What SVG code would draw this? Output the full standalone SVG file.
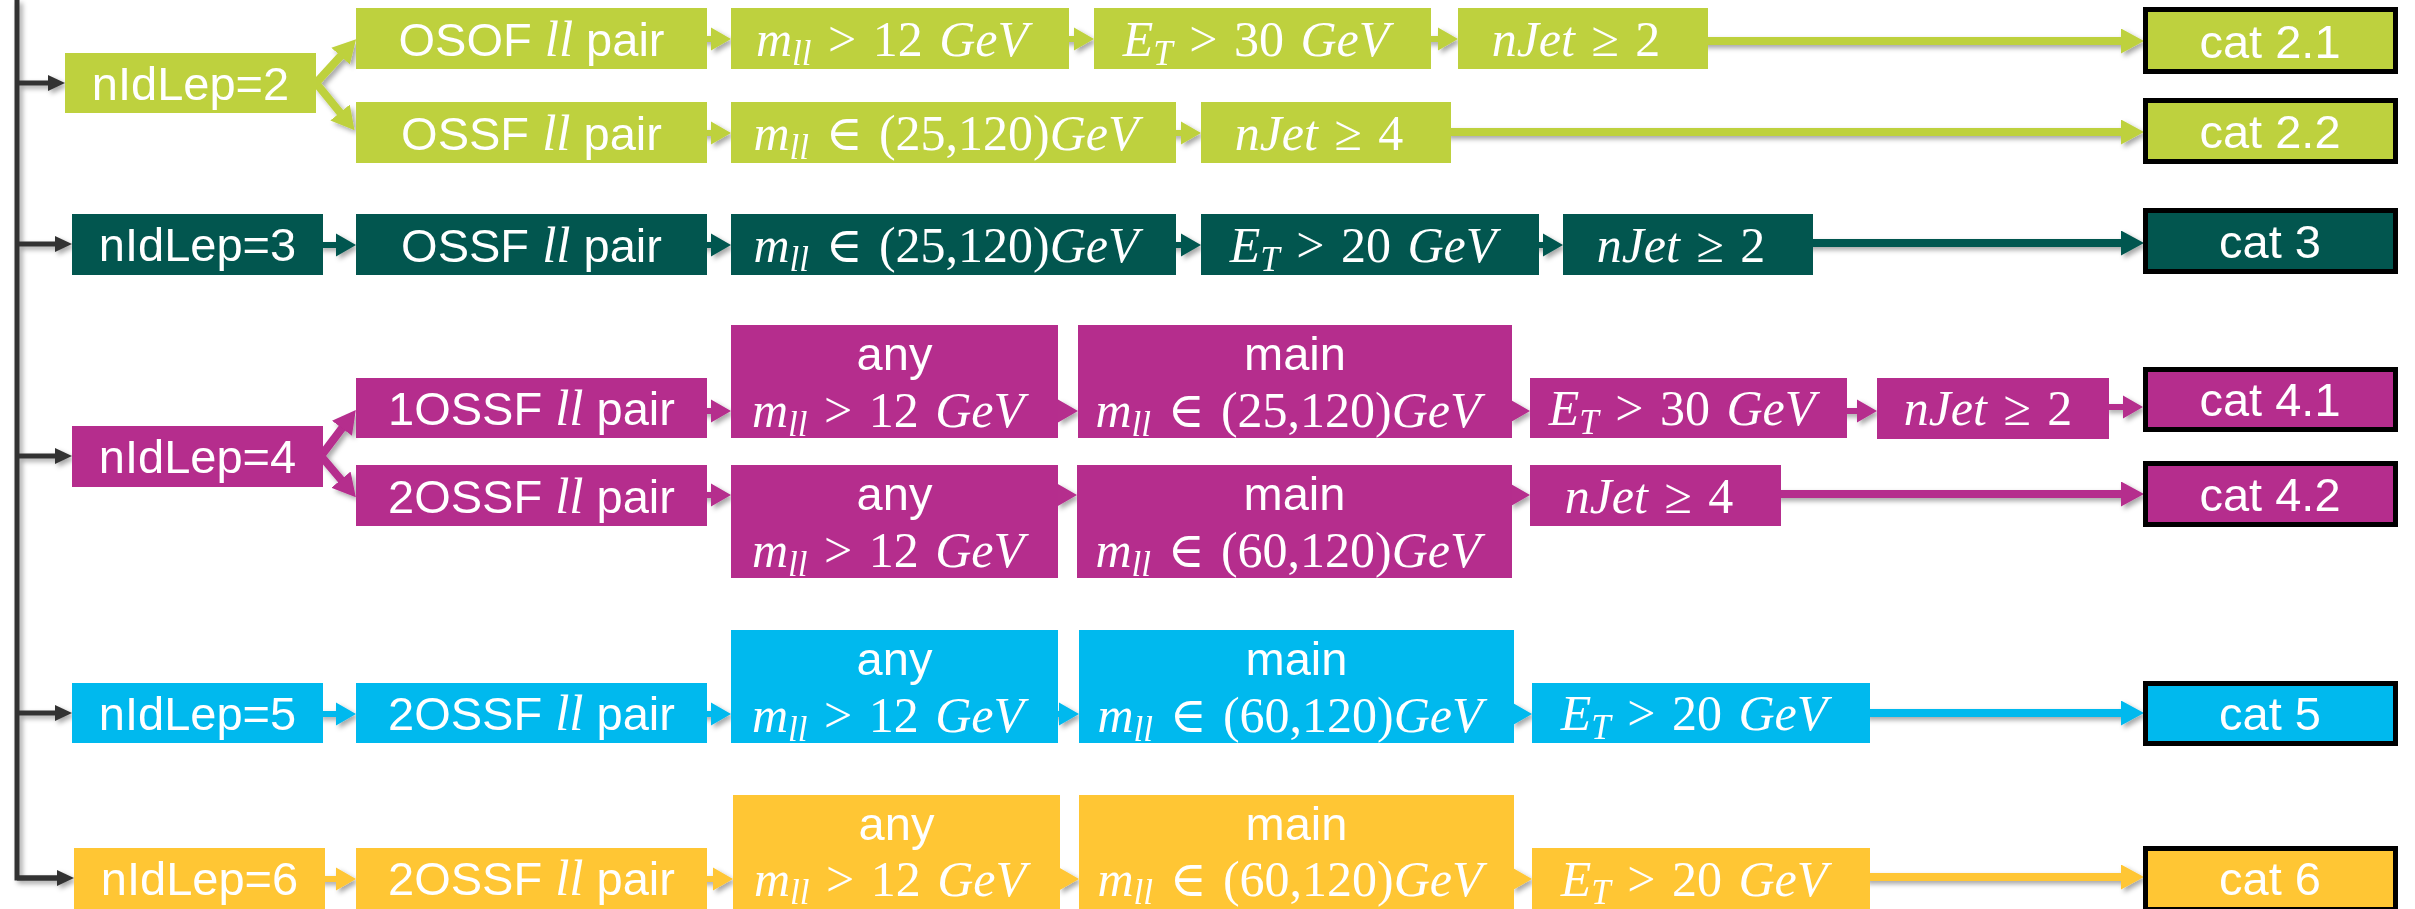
<svg xmlns="http://www.w3.org/2000/svg" xmlns:xlink="http://www.w3.org/1999/xlink" width="2415" height="909" viewBox="0 0 2415 909">
  <style>
    .lbl { font-family: "Liberation Sans", Arial, sans-serif; font-size: 47px; fill: #ffffff; text-anchor: middle; }
    .math { font-family: "Liberation Serif", "Times New Roman", "DejaVu Serif", serif; font-size: 50px; fill: #ffffff; text-anchor: middle; word-spacing: 4px; }
    .ll { font-family: "Liberation Serif", "Times New Roman", serif; font-style: italic; font-size: 51px; }
    .i { font-style: italic; }
    .sub { font-style: italic; font-size: 35px; }
    .lime { fill: #BED13E; }
    .teal { fill: #02564F; }
    .mag { fill: #B52D8D; }
    .cyan { fill: #00B9EE; }
    .yel { fill: #FFC634; }
    .cat { stroke: #000000; stroke-width: 5; }
    .ln { fill: none; stroke-width: 8; }
    .ln.lime { stroke: #BED13E; marker-end: url(#hLime); }
    .ln.teal { stroke: #02564F; marker-end: url(#hTeal); }
    .ln.mag { stroke: #B52D8D; marker-end: url(#hMag); }
    .ln.cyan { stroke: #00B9EE; marker-end: url(#hCyan); }
    .ln.yel { stroke: #FFC634; marker-end: url(#hYel); }
    .fork { fill: none; stroke-width: 8; }
    .fork.lime { stroke: #BED13E; marker-end: url(#hLime); }
    .fork.mag { stroke: #B52D8D; marker-end: url(#hMag); }
    .trunk { fill: none; stroke: #333333; stroke-width: 5; }
    .tarrow { fill: none; stroke: #333333; stroke-width: 5; marker-end: url(#hDark); }
  </style>
  <defs>
    <filter id="shadow" x="-20%" y="-20%" width="140%" height="160%">
      <feDropShadow dx="3" dy="3" stdDeviation="2.5" flood-color="#000000" flood-opacity="0.35"/>
    </filter>
    <!-- short block arrow, tip at the origin, pointing right -->
    <path id="blk" d="M-38,-3 H-20 V-11.5 L0,0 L-20,11.5 V3 H-38 Z"/>
    <marker id="hLime" markerUnits="userSpaceOnUse" markerWidth="23" markerHeight="25" refX="11" refY="12.5" orient="auto"><path d="M0,0 L23,12.5 L0,25 Z" fill="#BED13E"/></marker>
    <marker id="hTeal" markerUnits="userSpaceOnUse" markerWidth="23" markerHeight="25" refX="11" refY="12.5" orient="auto"><path d="M0,0 L23,12.5 L0,25 Z" fill="#02564F"/></marker>
    <marker id="hMag" markerUnits="userSpaceOnUse" markerWidth="23" markerHeight="25" refX="11" refY="12.5" orient="auto"><path d="M0,0 L23,12.5 L0,25 Z" fill="#B52D8D"/></marker>
    <marker id="hCyan" markerUnits="userSpaceOnUse" markerWidth="23" markerHeight="25" refX="11" refY="12.5" orient="auto"><path d="M0,0 L23,12.5 L0,25 Z" fill="#00B9EE"/></marker>
    <marker id="hYel" markerUnits="userSpaceOnUse" markerWidth="23" markerHeight="25" refX="11" refY="12.5" orient="auto"><path d="M0,0 L23,12.5 L0,25 Z" fill="#FFC634"/></marker>
    <marker id="hDark" markerUnits="userSpaceOnUse" markerWidth="17" markerHeight="16" refX="9" refY="8" orient="auto"><path d="M0,0 L17,8 L0,16 Z" fill="#333333"/></marker>
  </defs>

  <rect width="2415" height="909" fill="#ffffff"/>

  <!-- connectors -->
  <g id="connectors" filter="url(#shadow)">
    <!-- trunk and branches -->
    <path class="trunk" d="M17,0 V878 H60"/>
    <path class="tarrow" d="M17,878 H66"/>
    <path class="tarrow" d="M17,83 H57"/>
    <path class="tarrow" d="M17,244 H64"/>
    <path class="tarrow" d="M17,456 H64"/>
    <path class="tarrow" d="M17,713 H64"/>

    <!-- nIdLep=2 fork -->
    <path class="fork lime" d="M316,83 L348,48"/>
    <path class="fork lime" d="M316,83 L347,121"/>
    <!-- nIdLep=4 fork -->
    <path class="fork mag" d="M321,456 L348.6,419.5"/>
    <path class="fork mag" d="M321,456 L348.1,488"/>

    <!-- row 2.1 -->
    <use href="#blk" class="lime" transform="translate(731,39)"/>
    <use href="#blk" class="lime" transform="translate(1094,39)"/>
    <use href="#blk" class="lime" transform="translate(1458,39)"/>
    <path class="ln lime" d="M1700,41 H2132"/>
    <!-- row 2.2 -->
    <use href="#blk" class="lime" transform="translate(731,133)"/>
    <use href="#blk" class="lime" transform="translate(1201,133)"/>
    <path class="ln lime" d="M1445,132 H2132"/>
    <!-- row 3 -->
    <use href="#blk" class="teal" transform="translate(356,245)"/>
    <use href="#blk" class="teal" transform="translate(731,245)"/>
    <use href="#blk" class="teal" transform="translate(1201,245)"/>
    <use href="#blk" class="teal" transform="translate(1563,245)"/>
    <path class="ln teal" d="M1805,243 H2132"/>
    <!-- row 4.1 -->
    <use href="#blk" class="mag" transform="translate(731,411)"/>
    <use href="#blk" class="mag" transform="translate(1078,411)"/>
    <use href="#blk" class="mag" transform="translate(1530,411)"/>
    <use href="#blk" class="mag" transform="translate(1877,411)"/>
    <use href="#blk" class="mag" transform="translate(2143,407)"/>
    <!-- row 4.2 -->
    <use href="#blk" class="mag" transform="translate(731,495)"/>
    <use href="#blk" class="mag" transform="translate(1077,495)"/>
    <use href="#blk" class="mag" transform="translate(1530,495)"/>
    <path class="ln mag" d="M1775,494 H2132"/>
    <!-- row 5 -->
    <use href="#blk" class="cyan" transform="translate(356,714)"/>
    <use href="#blk" class="cyan" transform="translate(731,714)"/>
    <use href="#blk" class="cyan" transform="translate(1079,714)"/>
    <use href="#blk" class="cyan" transform="translate(1532,714)"/>
    <path class="ln cyan" d="M1864,713 H2132"/>
    <!-- row 6 -->
    <use href="#blk" class="yel" transform="translate(356,879)"/>
    <use href="#blk" class="yel" transform="translate(733,879)"/>
    <use href="#blk" class="yel" transform="translate(1079,879)"/>
    <use href="#blk" class="yel" transform="translate(1532,879)"/>
    <path class="ln yel" d="M1864,877 H2132"/>
  </g>

  <!-- two leptons -->
  <g id="n2"><rect class="lime" x="65" y="53" width="251" height="60"/><text class="lbl" x="190.5" y="100">nIdLep=2</text></g>
  <g id="r21-pair"><rect class="lime" x="356" y="8" width="351" height="61"/><text class="lbl" x="531.5" y="56">OSOF <tspan class="ll">ll</tspan> pair</text></g>
  <g id="r21-mll"><rect class="lime" x="731" y="8" width="338" height="61"/><text class="math" x="892" y="56"><tspan class="i">m</tspan><tspan class="sub" dy="9">ll</tspan><tspan dy="-9"> &gt; 12 </tspan><tspan class="i">GeV</tspan></text></g>
  <g id="r21-et"><rect class="lime" x="1094" y="8" width="337" height="61"/><text class="math" x="1256" y="56"><tspan class="i">E</tspan><tspan class="sub" dy="9">T</tspan><tspan dy="-9"> &gt; 30 </tspan><tspan class="i">GeV</tspan></text></g>
  <g id="r21-jet"><rect class="lime" x="1458" y="8" width="250" height="61"/><text class="math" x="1576" y="56"><tspan class="i">nJet</tspan> ≥ 2</text></g>
  <g id="cat21"><rect class="lime cat" x="2145.5" y="9.5" width="250" height="62"/><text class="lbl" x="2270" y="58">cat 2.1</text></g>

  <g id="r22-pair"><rect class="lime" x="356" y="102" width="351" height="61"/><text class="lbl" x="531.5" y="150">OSSF <tspan class="ll">ll</tspan> pair</text></g>
  <g id="r22-mll"><rect class="lime" x="731" y="102" width="445" height="61"/><text class="math" x="946" y="150"><tspan class="i">m</tspan><tspan class="sub" dy="9">ll</tspan><tspan dy="-9"> ∈ (25,120)</tspan><tspan class="i">GeV</tspan></text></g>
  <g id="r22-jet"><rect class="lime" x="1201" y="102" width="250" height="61"/><text class="math" x="1319" y="150"><tspan class="i">nJet</tspan> ≥ 4</text></g>
  <g id="cat22"><rect class="lime cat" x="2145.5" y="100.5" width="250" height="61"/><text class="lbl" x="2270" y="148">cat 2.2</text></g>

  <!-- three leptons -->
  <g id="n3"><rect class="teal" x="72" y="214" width="251" height="61"/><text class="lbl" x="197.5" y="261">nIdLep=3</text></g>
  <g id="r3-pair"><rect class="teal" x="356" y="214" width="351" height="61"/><text class="lbl" x="531.5" y="262">OSSF <tspan class="ll">ll</tspan> pair</text></g>
  <g id="r3-mll"><rect class="teal" x="731" y="214" width="445" height="61"/><text class="math" x="946" y="262"><tspan class="i">m</tspan><tspan class="sub" dy="9">ll</tspan><tspan dy="-9"> ∈ (25,120)</tspan><tspan class="i">GeV</tspan></text></g>
  <g id="r3-et"><rect class="teal" x="1201" y="214" width="338" height="61"/><text class="math" x="1363" y="262"><tspan class="i">E</tspan><tspan class="sub" dy="9">T</tspan><tspan dy="-9"> &gt; 20 </tspan><tspan class="i">GeV</tspan></text></g>
  <g id="r3-jet"><rect class="teal" x="1563" y="214" width="250" height="61"/><text class="math" x="1681" y="262"><tspan class="i">nJet</tspan> ≥ 2</text></g>
  <g id="cat3"><rect class="teal cat" x="2145.5" y="210.5" width="250" height="61"/><text class="lbl" x="2270" y="258">cat 3</text></g>

  <!-- four leptons -->
  <g id="n4"><rect class="mag" x="72" y="426" width="251" height="61"/><text class="lbl" x="197.5" y="473">nIdLep=4</text></g>
  <g id="r41-pair"><rect class="mag" x="356" y="378" width="351" height="60"/><text class="lbl" x="531.5" y="425">1OSSF <tspan class="ll">ll</tspan> pair</text></g>
  <g id="r41-any"><rect class="mag" x="731" y="325" width="327" height="113"/><text class="lbl" x="894.5" y="370">any</text><text class="math" x="888" y="427"><tspan class="i">m</tspan><tspan class="sub" dy="9">ll</tspan><tspan dy="-9"> &gt; 12 </tspan><tspan class="i">GeV</tspan></text></g>
  <g id="r41-main"><rect class="mag" x="1078" y="325" width="434" height="113"/><text class="lbl" x="1295" y="370">main</text><text class="math" x="1288" y="427"><tspan class="i">m</tspan><tspan class="sub" dy="9">ll</tspan><tspan dy="-9"> ∈ (25,120)</tspan><tspan class="i">GeV</tspan></text></g>
  <g id="r41-et"><rect class="mag" x="1530" y="378" width="317" height="60"/><text class="math" x="1682" y="425"><tspan class="i">E</tspan><tspan class="sub" dy="9">T</tspan><tspan dy="-9"> &gt; 30 </tspan><tspan class="i">GeV</tspan></text></g>
  <g id="r41-jet"><rect class="mag" x="1877" y="378" width="232" height="61"/><text class="math" x="1988" y="425"><tspan class="i">nJet</tspan> ≥ 2</text></g>
  <g id="cat41"><rect class="mag cat" x="2145.5" y="369.5" width="250" height="60"/><text class="lbl" x="2270" y="416">cat 4.1</text></g>

  <g id="r42-pair"><rect class="mag" x="356" y="465" width="351" height="61"/><text class="lbl" x="531.5" y="513">2OSSF <tspan class="ll">ll</tspan> pair</text></g>
  <g id="r42-any"><rect class="mag" x="731" y="465" width="327" height="113"/><text class="lbl" x="894.5" y="510">any</text><text class="math" x="888" y="567"><tspan class="i">m</tspan><tspan class="sub" dy="9">ll</tspan><tspan dy="-9"> &gt; 12 </tspan><tspan class="i">GeV</tspan></text></g>
  <g id="r42-main"><rect class="mag" x="1077" y="465" width="435" height="113"/><text class="lbl" x="1294.5" y="510">main</text><text class="math" x="1288" y="567"><tspan class="i">m</tspan><tspan class="sub" dy="9">ll</tspan><tspan dy="-9"> ∈ (60,120)</tspan><tspan class="i">GeV</tspan></text></g>
  <g id="r42-jet"><rect class="mag" x="1530" y="465" width="251" height="61"/><text class="math" x="1649" y="513"><tspan class="i">nJet</tspan> ≥ 4</text></g>
  <g id="cat42"><rect class="mag cat" x="2145.5" y="463.5" width="250" height="61"/><text class="lbl" x="2270" y="511">cat 4.2</text></g>

  <!-- five leptons -->
  <g id="n5"><rect class="cyan" x="72" y="683" width="251" height="60"/><text class="lbl" x="197.5" y="730">nIdLep=5</text></g>
  <g id="r5-pair"><rect class="cyan" x="356" y="683" width="351" height="60"/><text class="lbl" x="531.5" y="730">2OSSF <tspan class="ll">ll</tspan> pair</text></g>
  <g id="r5-any"><rect class="cyan" x="731" y="630" width="327" height="113"/><text class="lbl" x="894.5" y="675">any</text><text class="math" x="888" y="732"><tspan class="i">m</tspan><tspan class="sub" dy="9">ll</tspan><tspan dy="-9"> &gt; 12 </tspan><tspan class="i">GeV</tspan></text></g>
  <g id="r5-main"><rect class="cyan" x="1079" y="630" width="435" height="113"/><text class="lbl" x="1296.5" y="675">main</text><text class="math" x="1290" y="732"><tspan class="i">m</tspan><tspan class="sub" dy="9">ll</tspan><tspan dy="-9"> ∈ (60,120)</tspan><tspan class="i">GeV</tspan></text></g>
  <g id="r5-et"><rect class="cyan" x="1532" y="683" width="338" height="60"/><text class="math" x="1694" y="730"><tspan class="i">E</tspan><tspan class="sub" dy="9">T</tspan><tspan dy="-9"> &gt; 20 </tspan><tspan class="i">GeV</tspan></text></g>
  <g id="cat5"><rect class="cyan cat" x="2145.5" y="683.5" width="250" height="60"/><text class="lbl" x="2270" y="730">cat 5</text></g>

  <!-- six leptons -->
  <g id="n6"><rect class="yel" x="74" y="848" width="251" height="61"/><text class="lbl" x="199.5" y="895">nIdLep=6</text></g>
  <g id="r6-pair"><rect class="yel" x="356" y="848" width="351" height="61"/><text class="lbl" x="531.5" y="895">2OSSF <tspan class="ll">ll</tspan> pair</text></g>
  <g id="r6-any"><rect class="yel" x="733" y="795" width="327" height="114"/><text class="lbl" x="896.5" y="840">any</text><text class="math" x="890" y="896"><tspan class="i">m</tspan><tspan class="sub" dy="8">ll</tspan><tspan dy="-8"> &gt; 12 </tspan><tspan class="i">GeV</tspan></text></g>
  <g id="r6-main"><rect class="yel" x="1079" y="795" width="435" height="114"/><text class="lbl" x="1296.5" y="840">main</text><text class="math" x="1290" y="896"><tspan class="i">m</tspan><tspan class="sub" dy="8">ll</tspan><tspan dy="-8"> ∈ (60,120)</tspan><tspan class="i">GeV</tspan></text></g>
  <g id="r6-et"><rect class="yel" x="1532" y="848" width="338" height="61"/><text class="math" x="1694" y="896"><tspan class="i">E</tspan><tspan class="sub" dy="8">T</tspan><tspan dy="-8"> &gt; 20 </tspan><tspan class="i">GeV</tspan></text></g>
  <g id="cat6"><rect class="yel cat" x="2145.5" y="848.5" width="250" height="61"/><text class="lbl" x="2270" y="895">cat 6</text></g>
</svg>
